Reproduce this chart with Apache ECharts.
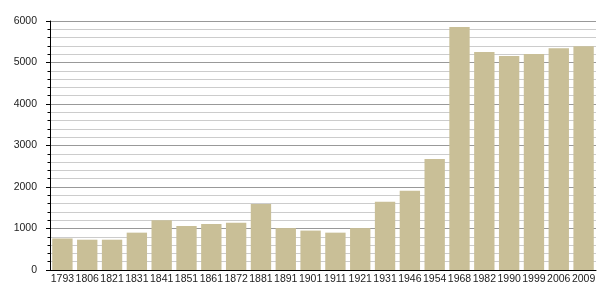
<!DOCTYPE html>
<html>
<head>
<meta charset="utf-8">
<script src="https://cdn.jsdelivr.net/npm/echarts@6/dist/echarts.min.js"></script>
<style>html,body{margin:0;padding:0;background:#fff}#c{width:605px;height:300px}</style>
</head>
<body>
<div id="c"></div>
<script>
const years = ["1793","1806","1821","1831","1841","1851","1861","1872","1881","1891","1901","1911","1921","1931","1946","1954","1968","1982","1990","1999","2006","2009"];
const population = [760,730,730,900,1200,1060,1110,1140,1590,1010,950,900,1010,1645,1910,2675,5855,5255,5155,5205,5345,5390];
const yTicks = [0,1000,2000,3000,4000,5000,6000];

const chart = echarts.init(document.getElementById('c'), null, {renderer:'canvas'});
chart.setOption({
  animation:false,
  backgroundColor:'#fff',
  grid:{left:50,right:9,top:21,bottom:30,containLabel:false},
  xAxis:{
    type:'category',
    data:years,
    axisLine:{lineStyle:{color:'#000',width:1}},
    axisTick:{show:false},
    axisLabel:{interval:0,fontFamily:'Liberation Sans, Arial, sans-serif',fontSize:10.5,color:'#222',margin:4}
  },
  yAxis:{
    type:'value',
    min:yTicks[0],max:yTicks[yTicks.length-1],interval:1000,
    axisLine:{show:true,lineStyle:{color:'#000',width:1}},
    axisTick:{show:true,length:4,lineStyle:{color:'#000'}},
    minorTick:{show:true,splitNumber:5,length:2.5,lineStyle:{color:'#000'}},
    splitLine:{show:true,lineStyle:{color:'#999',width:1}},
    minorSplitLine:{show:true,lineStyle:{color:'#ccc',width:1}},
    axisLabel:{fontFamily:'Liberation Sans, Arial, sans-serif',fontSize:10.5,color:'#222',margin:13,formatter:function(v){return String(v);}}
  },
  series:[{
    type:'bar',
    data:population,
    barCategoryGap:'18%',
    itemStyle:{color:'#c9bf97'}
  }]
});
</script>
</body>
</html>
